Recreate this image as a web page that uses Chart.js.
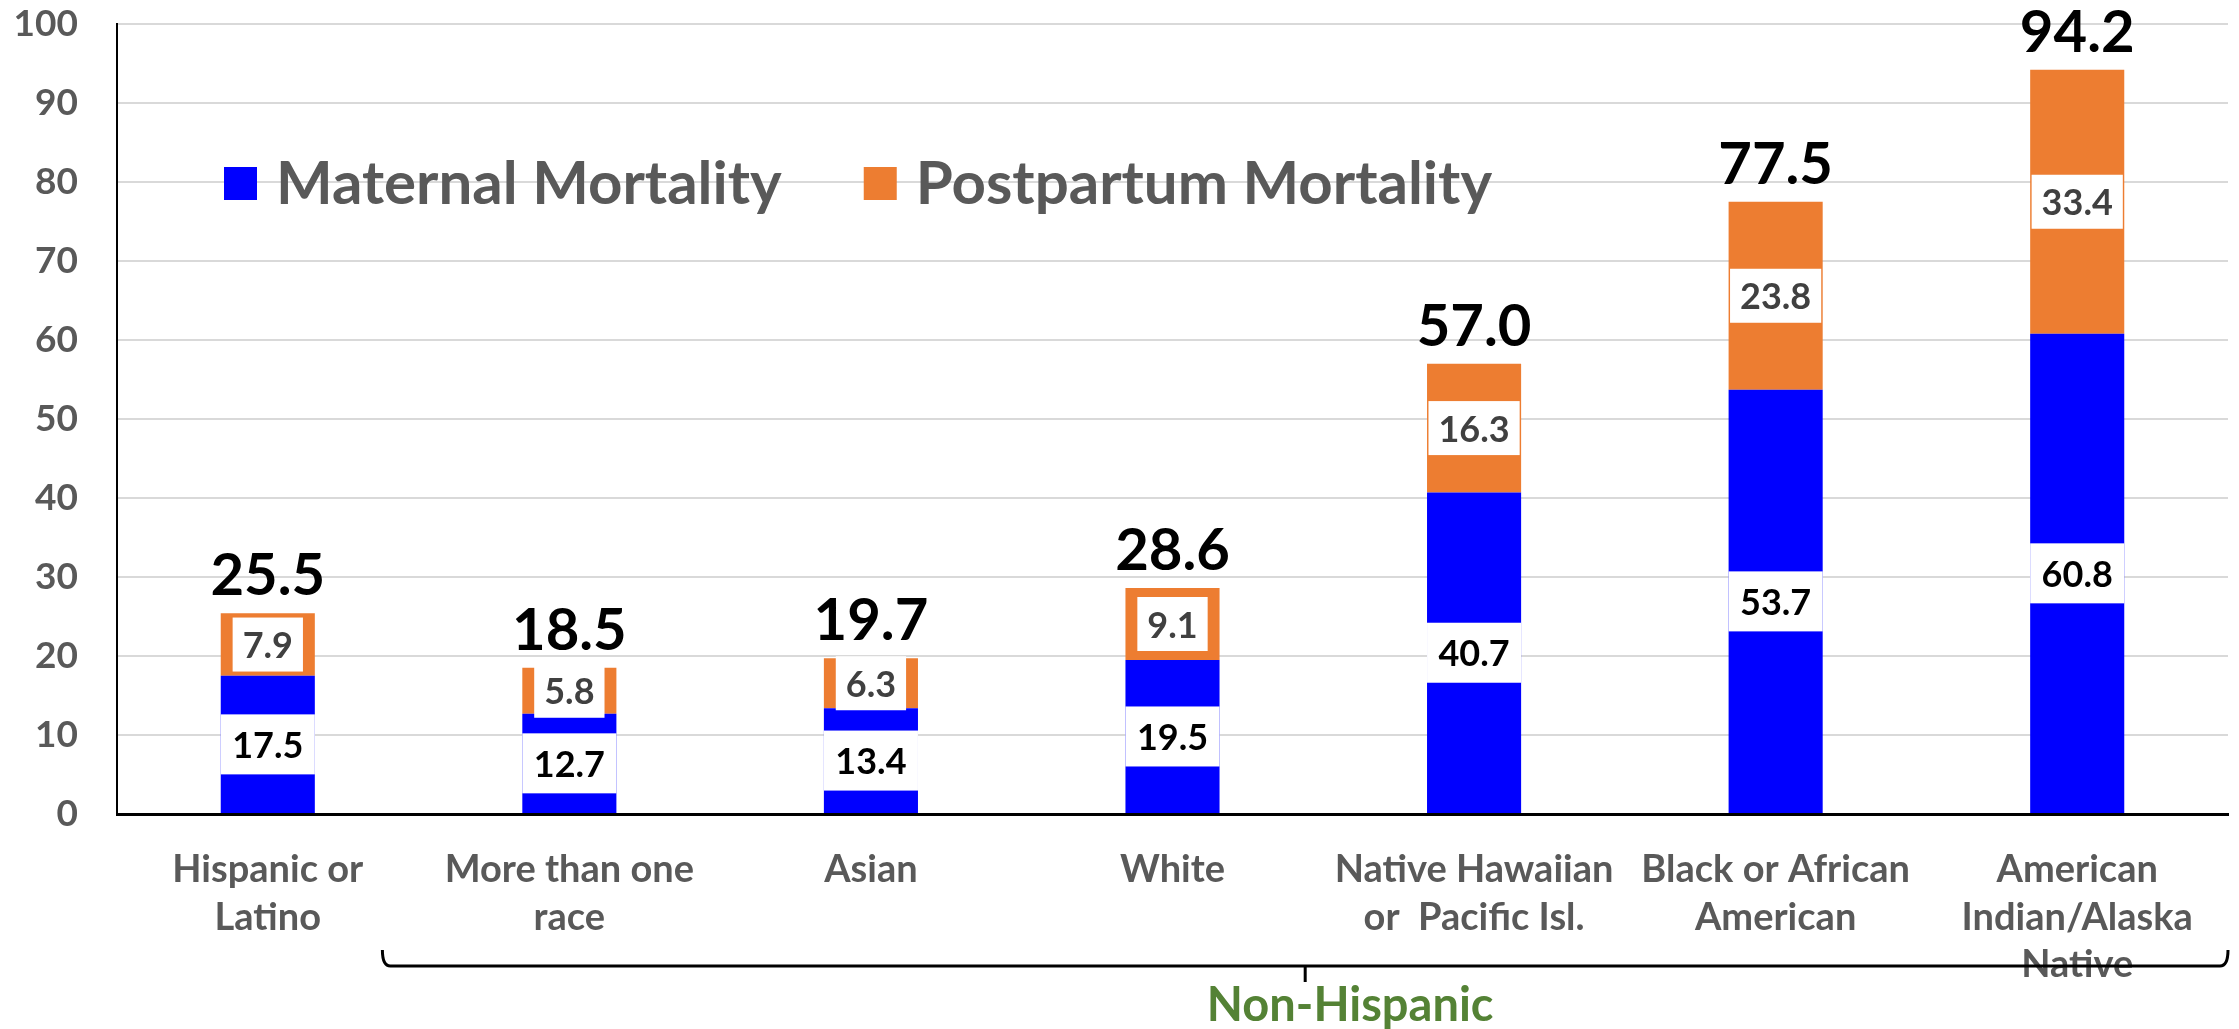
<!DOCTYPE html>
<html>
<head>
<meta charset="utf-8">
<script src="https://cdn.jsdelivr.net/npm/chart.js@4.4.1/dist/chart.umd.min.js"></script>
<style>
  html, body { margin: 0; padding: 0; background: #fff; }
</style>
</head>
<body>
<canvas id="chart" width="2239" height="1029"></canvas>
<script>
// ── Data ──────────────────────────────────────────────────────
const categories = [
  ['Hispanic or', 'Latino'],
  ['More than one', 'race'],
  ['Asian'],
  ['White'],
  ['Native Hawaiian', 'or  Pacific Isl.'],
  ['Black or African', 'American'],
  ['American', 'Indian/Alaska', 'Native'],
];
const maternal   = [17.5, 12.7, 13.4, 19.5, 40.7, 53.7, 60.8];
const postpartum = [7.9, 5.8, 6.3, 9.1, 16.3, 23.8, 33.4];
const totals     = [25.5, 18.5, 19.7, 28.6, 57.0, 77.5, 94.2];
const yMin = 0, yMax = 100, yStep = 10;
const groupLabel = 'Non-Hispanic';

const BLUE   = '#0000FF';
const ORANGE = '#ED7D31';
const GRAY   = '#595959';
const GREEN  = '#548235';
const FONT   = 'Lato, "Open Sans", sans-serif';

// ── Labels, totals, legend, bracket ───────────────────────────
const overlayPlugin = {
  id: 'overlay',
  afterDatasetsDraw(chart) {
    const ctx = chart.ctx;
    const y = chart.scales.y;
    ctx.save();
    ctx.textAlign = 'center';

    // value boxes on each segment
    chart.data.datasets.forEach((ds, di) => {
      chart.getDatasetMeta(di).data.forEach((bar, i) => {
        const txt = ds.data[i].toFixed(1);
        const cy  = (bar.y + bar.base) / 2;
        ctx.font = `bold 36px ${FONT}`;
        const w = di === 0 ? bar.width : Math.min(bar.width, ctx.measureText(txt).width + 20);
        const h = di === 0 ? 60 : 54;
        ctx.fillStyle = '#fff';
        ctx.fillRect(bar.x - w / 2, cy - h / 2, w, h);
        ctx.fillStyle = di === 0 ? '#000' : '#404040';
        ctx.textBaseline = 'middle';
        ctx.fillText(txt, bar.x, cy + 2);
      });
    });

    // totals above the stacks
    ctx.font = `bold 58px ${FONT}`;
    ctx.fillStyle = '#000';
    ctx.textBaseline = 'alphabetic';
    chart.getDatasetMeta(0).data.forEach((bar, i) => {
      ctx.fillText(totals[i].toFixed(1), bar.x, y.getPixelForValue(totals[i]) - 18);
    });
    ctx.restore();
  },

  afterDraw(chart) {
    const ctx = chart.ctx;
    const area = chart.chartArea;
    const x = chart.scales.x;
    ctx.save();

    // legend inside the plot
    ctx.font = `bold 60px ${FONT}`;
    ctx.textBaseline = 'middle';
    ctx.textAlign = 'left';
    let lx = area.left + 107;
    const ly = area.top + 159;
    chart.data.datasets.forEach(ds => {
      ctx.fillStyle = ds.backgroundColor;
      ctx.fillRect(lx, ly - 16, 33, 33);
      lx += 33 + 19;
      ctx.fillStyle = GRAY;
      ctx.fillText(ds.label, lx, ly + 2);
      lx += ctx.measureText(ds.label).width + 82;
    });

    // bracket under the non-hispanic groups
    const catW  = x.getPixelForValue(1) - x.getPixelForValue(0);
    const left  = x.getPixelForValue(1) - 0.62 * catW;
    const right = area.right;
    const by    = area.bottom + 152;
    const mid   = (left + right) / 2;
    ctx.strokeStyle = '#000';
    ctx.lineWidth = 3;
    ctx.beginPath();
    ctx.moveTo(left, by - 16);
    ctx.quadraticCurveTo(left, by, left + 8, by);
    ctx.lineTo(right - 8, by);
    ctx.quadraticCurveTo(right, by, right, by - 16);
    ctx.moveTo(mid, by);
    ctx.lineTo(mid, by + 16);
    ctx.stroke();

    ctx.font = `bold 47px ${FONT}`;
    ctx.fillStyle = GREEN;
    ctx.textAlign = 'center';
    ctx.fillText(groupLabel, mid + 45, area.bottom + 192);
    ctx.restore();
  },
};

// ── Chart ─────────────────────────────────────────────────────
new Chart(document.getElementById('chart').getContext('2d'), {
  type: 'bar',
  data: {
    labels: categories,
    datasets: [
      { label: 'Maternal Mortality',   data: maternal,   backgroundColor: BLUE,
        categoryPercentage: 0.8, barPercentage: 0.39 },
      { label: 'Postpartum Mortality', data: postpartum, backgroundColor: ORANGE,
        categoryPercentage: 0.8, barPercentage: 0.39 },
    ],
  },
  options: {
    responsive: false, animation: false, devicePixelRatio: 1,
    layout: { padding: { top: 24, right: 11, left: 0, bottom: 0 } },
    plugins: { legend: { display: false }, tooltip: { enabled: false } },
    scales: {
      x: {
        stacked: true,
        grid: { display: false, drawTicks: false },
        border: { display: true, color: '#000', width: 3 },
        ticks: {
          color: GRAY, padding: 32, maxRotation: 0, autoSkip: false,
          font: { family: FONT, size: 38, weight: 'bold', lineHeight: 1.25 },
        },
        afterFit(scale) { scale.height = 215; },
      },
      y: {
        stacked: true, min: yMin, max: yMax,
        grid: { color: '#D9D9D9', lineWidth: 2, drawTicks: false },
        border: { display: true, color: '#000', width: 2 },
        ticks: {
          stepSize: yStep, color: GRAY, padding: 39,
          font: { family: FONT, size: 37, weight: 'bold' },
        },
        // tick padding would otherwise be added above the plot
        afterFit(scale) { scale.width = 117; scale.paddingTop = 0; scale.paddingBottom = 0; },
      },
    },
  },
  plugins: [overlayPlugin],
});
</script>
</body>
</html>
